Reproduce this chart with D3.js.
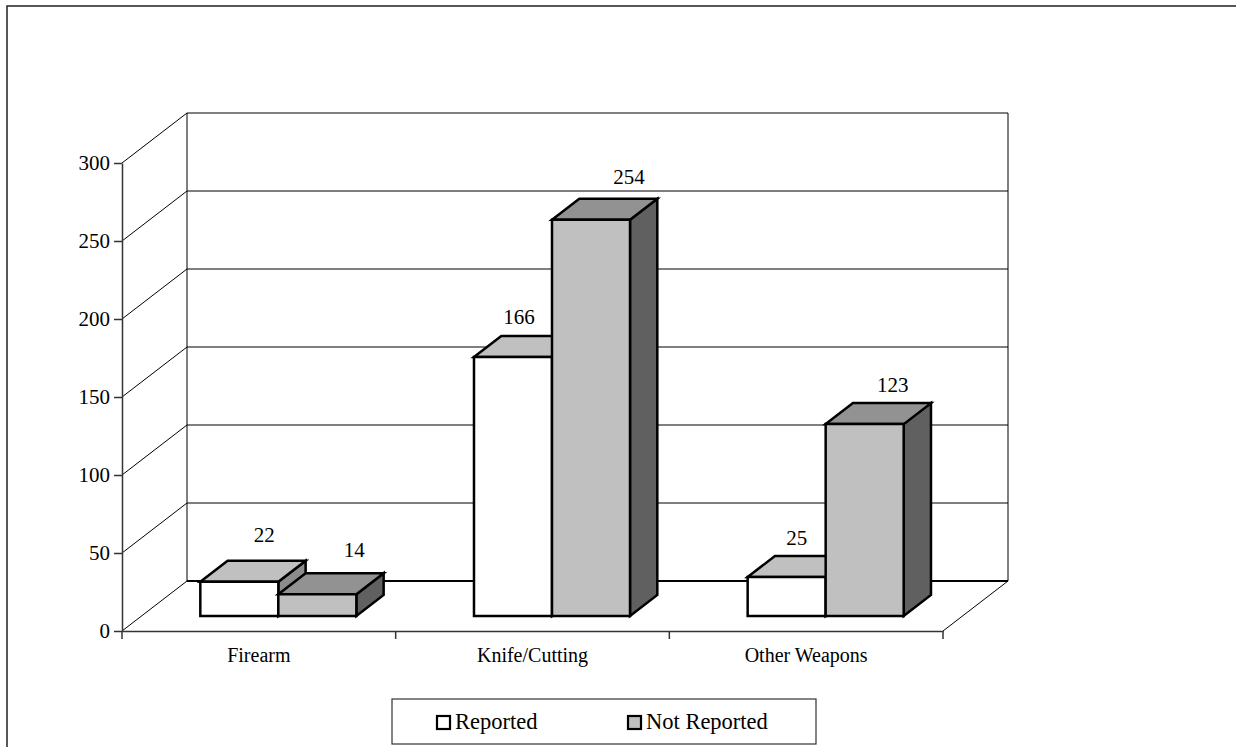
<!DOCTYPE html>
<html>
<head>
<meta charset="utf-8">
<script src="https://cdn.jsdelivr.net/npm/d3@7/dist/d3.min.js"></script>
<style>
  html, body { margin: 0; padding: 0; background: #fff; overflow: hidden; }
  svg { display: block; }
  text { font-family: "Liberation Serif", "DejaVu Serif", serif; fill: #000; }
</style>
</head>
<body>
<svg id="chart" width="1236" height="747"></svg>
<script>
// Weapon categories and counts for the two series
const categories = ["Firearm", "Knife/Cutting", "Other Weapons"];
const seriesNames = ["Reported", "Not Reported"];
const reported = [22, 166, 25];
const notReported = [14, 254, 123];
const yTicks = [0, 50, 100, 150, 200, 250, 300];

// Small per-label nudges (px) so the value labels sit as in the layout
const labelNudge = [
  [[25, -40], [37, -37]],
  [[6, -33], [38, -36]],
  [[10, -32], [28, -32]]
];

const svg = d3.select("#chart");

// Plot geometry: front plane and the depth offset of the 3-D box
const front = { left: 122, right: 943, bottom: 631, top: 163 };
const depth = { dx: 65, dy: -50 };
const barDepth = { near: 0.3, far: 0.72 };

const y = d3.scaleLinear().domain([0, 300]).range([front.bottom, front.top]);
const x0 = d3.scaleBand().domain(categories).range([front.left, front.right]).paddingInner(0).paddingOuter(0);
const x1 = d3.scaleBand().domain(seriesNames).range([0, x0.bandwidth()]).paddingInner(0).paddingOuter(0.754);

// project a front-plane point back by a fraction d of the depth
const P = (px, py, d) => [px + depth.dx * d, py + depth.dy * d];

// Outer chart border (open towards the right and bottom edges)
svg.append("path").attr("d", "M7,760 L7,6 L1250,6")
  .attr("fill", "none").attr("stroke", "#222").attr("stroke-width", 1.5);

const walls = svg.append("g");

// Gridlines: side wall diagonals and back wall horizontals
yTicks.forEach(t => {
  const a = P(front.left, y(t), 0), b = P(front.left, y(t), 1), c = P(front.right, y(t), 1);
  walls.append("line").attr("x1", a[0]).attr("y1", a[1]).attr("x2", b[0]).attr("y2", b[1])
    .attr("stroke", "#000").attr("stroke-width", 1);
  walls.append("line").attr("x1", b[0]).attr("y1", b[1]).attr("x2", c[0]).attr("y2", c[1])
    .attr("stroke", "#000").attr("stroke-width", t === 0 ? 2 : 1);
});
// Back wall vertical edges
[front.left, front.right].forEach(px => {
  const a = P(px, y(0), 1), b = P(px, y(300), 1);
  walls.append("line").attr("x1", a[0]).attr("y1", a[1]).attr("x2", b[0]).attr("y2", b[1])
    .attr("stroke", "#000").attr("stroke-width", 1);
});
// Floor right diagonal
{
  const a = P(front.right, y(0), 0), b = P(front.right, y(0), 1);
  walls.append("line").attr("x1", a[0]).attr("y1", a[1]).attr("x2", b[0]).attr("y2", b[1])
    .attr("stroke", "#000").attr("stroke-width", 1);
}

// Value axis
const yAxis = d3.axisLeft(y).tickValues(yTicks).tickSize(8).tickPadding(4).tickSizeOuter(0);
const yg = svg.append("g").attr("transform", `translate(${front.left},0)`).call(yAxis);
yg.select(".domain").attr("stroke", "#333").attr("stroke-width", 1.5);
yg.selectAll(".tick line").attr("stroke", "#333").attr("stroke-width", 1.5);
yg.selectAll(".tick text").attr("font-size", 21).attr("font-family", "Liberation Serif").attr("fill", "#000");

// Category axis along the front floor edge
const xAxis = d3.axisBottom(x0).tickSize(0).tickPadding(17).tickSizeOuter(0);
const xg = svg.append("g").attr("transform", `translate(0,${front.bottom})`).call(xAxis);
xg.select(".domain").attr("stroke", "#333").attr("stroke-width", 1.5);
xg.selectAll(".tick text").attr("font-size", 20).attr("font-family", "Liberation Serif").attr("fill", "#000");
// boundary ticks between categories
const bounds = categories.map(c => x0(c)).concat([x0(categories[categories.length - 1]) + x0.bandwidth()]);
xg.selectAll(".bound").data(bounds).join("line").attr("class", "bound")
  .attr("x1", d => d).attr("x2", d => d).attr("y1", 0).attr("y2", 8)
  .attr("stroke", "#333").attr("stroke-width", 1.5);

// 3-D bars
const palette = {
  "Reported": { front: "#ffffff", top: "#c0c0c0", side: "#8c8c8c" },
  "Not Reported": { front: "#c0c0c0", top: "#929292", side: "#606060" }
};
const values = { "Reported": reported, "Not Reported": notReported };

const bars = svg.append("g");
const labels = svg.append("g");
categories.forEach((cat, ci) => {
  seriesNames.forEach((s, si) => {
    const v = values[s][ci];
    const xl = x0(cat) + x1(s), xr = xl + x1.bandwidth();
    const n = barDepth.near, f = barDepth.far;
    const fbl = P(xl, y(0), n), fbr = P(xr, y(0), n), ftl = P(xl, y(v), n), ftr = P(xr, y(v), n);
    const btl = P(xl, y(v), f), btr = P(xr, y(v), f), bbr = P(xr, y(0), f);
    const col = palette[s];
    const g = bars.append("g").attr("stroke", "#000").attr("stroke-width", 2.5).attr("stroke-linejoin", "miter");
    g.append("polygon").attr("points", [fbr, ftr, btr, bbr].map(p => p.join(",")).join(" ")).attr("fill", col.side);
    g.append("polygon").attr("points", [ftl, ftr, btr, btl].map(p => p.join(",")).join(" ")).attr("fill", col.top);
    g.append("polygon").attr("points", [fbl, fbr, ftr, ftl].map(p => p.join(",")).join(" ")).attr("fill", col.front);
    const nd = labelNudge[ci][si];
    labels.append("text")
      .attr("x", (ftl[0] + ftr[0]) / 2 + nd[0])
      .attr("y", ftl[1] + nd[1])
      .attr("text-anchor", "middle").attr("font-size", 21)
      .text(v);
  });
});

// Legend
const legend = svg.append("g");
legend.append("rect").attr("x", 392).attr("y", 699).attr("width", 424).attr("height", 45)
  .attr("fill", "#fff").attr("stroke", "#333").attr("stroke-width", 1.2);
const legendX = [437, 628];
seriesNames.forEach((s, i) => {
  legend.append("rect").attr("x", legendX[i]).attr("y", 716).attr("width", 13).attr("height", 13)
    .attr("fill", palette[s].front).attr("stroke", "#000").attr("stroke-width", 2.2);
  legend.append("text").attr("x", legendX[i] + 18).attr("y", 729).attr("font-size", 22.5).text(s);
});
</script>
</body>
</html>
